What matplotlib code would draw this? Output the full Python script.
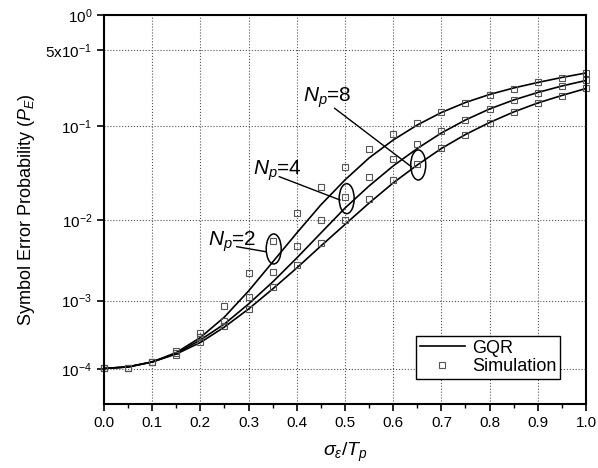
import matplotlib
matplotlib.use('Agg')
import matplotlib.pyplot as plt
import numpy as np
from matplotlib.patches import Ellipse
from matplotlib.ticker import FixedLocator, FixedFormatter, MultipleLocator

plt.rcParams['font.family'] = ['Liberation Sans', 'DejaVu Sans']
plt.rcParams['mathtext.fontset'] = 'custom'
plt.rcParams['mathtext.rm'] = 'Liberation Sans'
plt.rcParams['mathtext.it'] = 'Liberation Sans:italic'
plt.rcParams['mathtext.bf'] = 'Liberation Sans:bold'

# sigma_eps / T_p
x = [0.0, 0.05, 0.1, 0.15, 0.2, 0.25, 0.3, 0.35, 0.4, 0.45, 0.5,
     0.55, 0.6, 0.65, 0.7, 0.75, 0.8, 0.85, 0.9, 0.95, 1.0]

# GQR curves
gqr_np2 = [1.01e-4, 1.07e-4, 1.28e-4, 1.79e-4, 3.01e-4, 5.94e-4, 1.345e-3, 3.17e-3,
           7.13e-3, 1.50e-2, 2.81e-2, 4.78e-2, 7.27e-2, 0.1023, 0.1351, 0.1682,
           0.200, 0.2297, 0.258, 0.2866, 0.3148]
gqr_np4 = [1.01e-4, 1.07e-4, 1.28e-4, 1.74e-4, 2.77e-4, 4.73e-4, 9.0e-4, 1.765e-3,
           3.56e-3, 7.13e-3, 1.38e-2, 2.42e-2, 3.95e-2, 5.97e-2, 8.54e-2, 0.1145,
           0.146, 0.1776, 0.2086, 0.2395, 0.269]
gqr_np8 = [1.01e-4, 1.07e-4, 1.28e-4, 1.70e-4, 2.54e-4, 4.28e-4, 7.68e-4, 1.43e-3,
           2.67e-3, 4.99e-3, 8.97e-3, 1.57e-2, 2.61e-2, 4.04e-2, 5.97e-2, 8.25e-2,
           0.1082, 0.1367, 0.1664, 0.1957, 0.2273]

# simulation points
sim_np2 = [1.01e-4, 1.04e-4, 1.28e-4, 1.87e-4, 3.47e-4, 8.52e-4, 2.29e-3, 5.78e-3,
           1.22e-2, 2.34e-2, 3.88e-2, 5.86e-2, 8.29e-2, 0.1078, 0.1367, 0.1664,
           0.1978, 0.2247, 0.259, 0.285, 0.3167]
sim_np4 = [1.01e-4, 1.04e-4, 1.28e-4, 1.74e-4, 3.03e-4, 5.13e-4, 1.11e-3, 2.39e-3,
           5.03e-3, 1.01e-2, 1.85e-2, 3.00e-2, 4.63e-2, 6.63e-2, 8.99e-2, 0.1145,
           0.1466, 0.1776, 0.2064, 0.241, 0.269]
sim_np8 = [1.01e-4, 1.04e-4, 1.28e-4, 1.63e-4, 2.61e-4, 4.38e-4, 7.68e-4, 1.53e-3,
           2.91e-3, 5.38e-3, 1.01e-2, 1.73e-2, 2.81e-2, 4.14e-2, 6.00e-2, 8.2e-2,
           0.107, 0.1367, 0.166, 0.195, 0.228]

yticks = [1e-4, 1e-3, 1e-2, 1e-1, 5e-1, 1.0]
ytick_labels = [r'$10^{-4}$', r'$10^{-3}$', r'$10^{-2}$', r'$10^{-1}$',
                r'5x$10^{-1}$', r'$10^{0}$']

# the y axis of the original is a compressed (power-like) scale
ALPHA = 0.0706
def fwd(p):
    return np.power(np.clip(p, 1e-12, None), ALPHA)
def inv(v):
    return np.power(np.clip(v, 0, None), 1.0 / ALPHA)

fig = plt.figure(figsize=(5.98, 4.68), dpi=100)
ax = fig.add_axes([0.1739, 0.1368, 0.806, 0.8312])
ax.set_yscale('function', functions=(fwd, inv))

line_kw = dict(color='black', lw=1.2)
mark_kw = dict(ls='none', marker='s', ms=4, mfc='none', mec='#555555', mew=0.8, clip_on=False)
for g, s in [(gqr_np2, sim_np2), (gqr_np4, sim_np4), (gqr_np8, sim_np8)]:
    l1, = ax.plot(x, g, **line_kw)
    l2, = ax.plot(x, s, **mark_kw)

ax.set_xlim(0, 1.0)
ax.set_ylim(2.58e-5, 1.0)
ax.xaxis.set_major_locator(MultipleLocator(0.1))
ax.xaxis.set_minor_locator(MultipleLocator(0.05))
ax.xaxis.set_major_formatter(matplotlib.ticker.FormatStrFormatter('%.1f'))
ax.yaxis.set_major_locator(FixedLocator(yticks))
ax.yaxis.set_major_formatter(FixedFormatter(ytick_labels))
ax.yaxis.set_minor_locator(FixedLocator([]))

ax.tick_params(axis='both', which='major', direction='out', length=5, width=1.2,
               labelsize=11, top=False, right=False)
ax.tick_params(axis='x', which='minor', direction='out', length=3, width=1.0, top=False)
ax.grid(True, which='major', ls=':', color='#555555', lw=0.8)
for sp in ax.spines.values():
    sp.set_linewidth(1.5)

ax.set_ylabel('Symbol Error Probability ($P_E$)', fontsize=13, labelpad=6)
ax.set_xlabel(r'$\sigma_\varepsilon/T_p$', fontsize=14, labelpad=8)

# ellipses and labels
ell_w, ell_h = 15 / 482, 30 / 389
for cx, cy in [(0.3521, 0.3985), (0.5035, 0.5278), (0.652, 0.6144)]:
    ax.add_patch(Ellipse((cx, cy), ell_w, ell_h, transform=ax.transAxes,
                         fill=False, ec='black', lw=1.1))
ax.text(0.216, 0.406, r'$N_p$=2', transform=ax.transAxes, fontsize=15, va='baseline')
ax.text(0.309, 0.589, r'$N_p$=4', transform=ax.transAxes, fontsize=15, va='baseline')
ax.text(0.413, 0.777, r'$N_p$=8', transform=ax.transAxes, fontsize=15, va='baseline')
ax.plot([0.2753, 0.3355], [0.4044, 0.3915], transform=ax.transAxes, color='black', lw=1)
ax.plot([0.3637, 0.4896], [0.5843, 0.5244], transform=ax.transAxes, color='black', lw=1)
ax.plot([0.4786, 0.6376], [0.7601, 0.6100], transform=ax.transAxes, color='black', lw=1)

leg = ax.legend([l1, l2], ['GQR', 'Simulation'], loc='lower right',
                bbox_to_anchor=(0.946, 0.064), borderaxespad=0, fontsize=13,
                fancybox=False, framealpha=1, edgecolor='black', handlelength=2.5,
                handletextpad=0.4, borderpad=0.2, labelspacing=0.1)
leg.get_frame().set_linewidth(1.0)

fig.savefig('out.png', dpi=100)
